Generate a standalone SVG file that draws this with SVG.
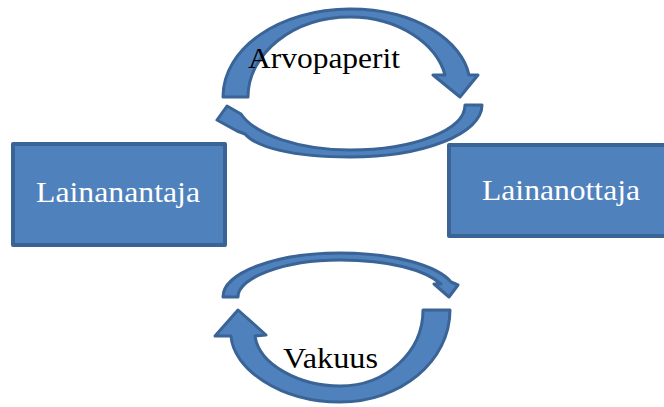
<svg xmlns="http://www.w3.org/2000/svg" width="664" height="407" viewBox="0 0 664 407">
<style>
.box{fill:#4F81BD;stroke:#3A6396;stroke-width:4;stroke-linejoin:round}
.arr{fill:#4F81BD;stroke:#3A6396;stroke-width:3;stroke-linejoin:round}
.t{font-family:'Liberation Serif','Times New Roman','DejaVu Serif',serif;font-size:30px}
.bt{fill:#FFFFFF;text-anchor:middle}
.lt{fill:#000000}
</style>
<g id="connectors">
<path id="arrow-arvopaperit-top" class="arr" d="M223,97 C223,48 280,9 350,9 C418,9 462,42 469,75 L478,75 L460,97 L433,75 L445,75 C437,45 400,17 350,17 C294,17 248,53 248,97 Z"/>
<path id="arrow-arvopaperit-bottom" class="arr" d="M465,105 L482,105 C482,134 423,157 350,157 C292,157 256,147 245,134 L237,131 L217,120 L227,106 L241,114 C255,135 300,150 350,150 C414,150 465,130 465,105 Z"/>
<path id="arrow-vakuus-top" class="arr" d="M223,297 C223,273 275,253 340,253 C395,253 438,266 451,282 L458,285 L449,297 L434,284 L441,284 C425,270 390,260 340,260 C283,260 238,278 238,297 Z"/>
<path id="arrow-vakuus-bottom" class="arr" d="M423,310 L450,310 C450,361 401,402 340,402 C279,402 233,368 231,336 L215,336 L238,310 L266,335 L255,336 C259,365 300,386 340,386 C386,386 423,352 423,310 Z"/>
</g>
<g id="node-lainanantaja">
<rect class="box" x="13" y="144" width="212" height="101"/>
<text class="t bt" x="118" y="202" textLength="164" lengthAdjust="spacingAndGlyphs">Lainanantaja</text>
</g>
<g id="node-lainanottaja">
<rect class="box" x="449" y="145" width="230" height="91"/>
<text class="t bt" x="561" y="200" textLength="158" lengthAdjust="spacingAndGlyphs">Lainanottaja</text>
</g>
<g id="labels">
<text class="t lt" x="248" y="68" textLength="152" lengthAdjust="spacingAndGlyphs">Arvopaperit</text>
<text class="t lt" x="283" y="368" textLength="95" lengthAdjust="spacingAndGlyphs">Vakuus</text>
</g>
</svg>
